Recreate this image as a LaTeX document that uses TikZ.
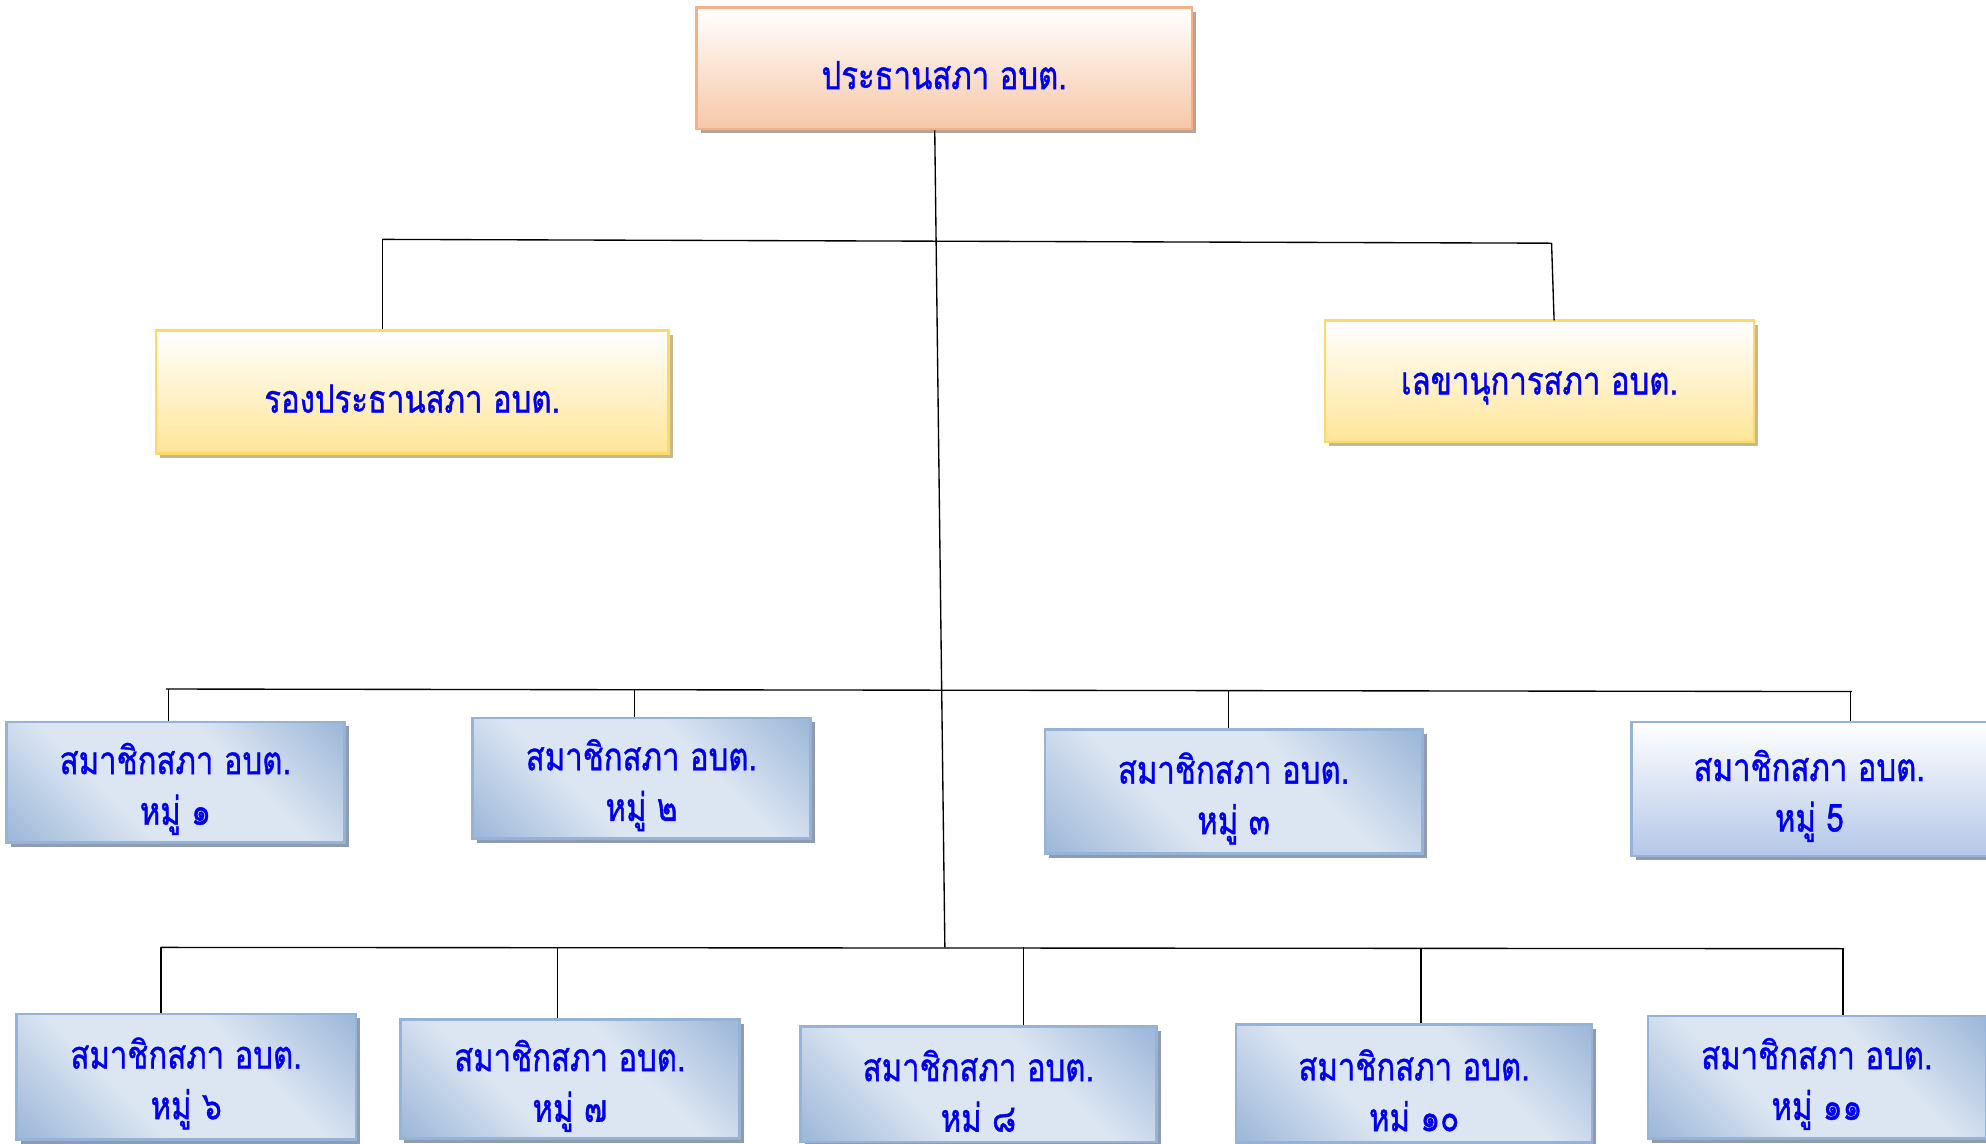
\documentclass[tikz,border=0pt]{standalone}
\usepackage{fontspec}
\newfontfamily\thaifont[Script=Thai,FakeStretch=0.8,FakeBold=1.0]{Loma}
\usetikzlibrary{shadows}

\definecolor{txtblue}{RGB}{0,0,240}
\definecolor{peachline}{HTML}{F4B183}
\definecolor{peachfill}{HTML}{F6C7A7}
\definecolor{peachshade}{HTML}{B9A597}
\definecolor{yelline}{HTML}{FFD966}
\definecolor{yelfill}{HTML}{FFE597}
\definecolor{yelshade}{HTML}{C6B98F}
\definecolor{blueline}{HTML}{95B3D7}
\definecolor{bluedark}{HTML}{9FB9DA}
\definecolor{bluelight}{HTML}{DCE6F2}
\definecolor{bluepale}{HTML}{B4C7E7}
\definecolor{blueshade}{HTML}{8E9BB0}

\pgfdeclarehorizontalshading{memberdiag}{100bp}{color(0bp)=(bluedark); color(16bp)=(bluedark);
  color(38bp)=(bluelight); color(62bp)=(bluelight); color(84bp)=(bluedark); color(100bp)=(bluedark)}

% push the text a little below the middle of its box
\newcommand{\lowtext}[1]{\raisebox{-4pt}[\height][\depth]{#1}}
\newcommand{\member}[1]{\lowtext{สมาชิกสภา อบต.}\\\lowtext{#1}}

\tikzset{
  orgbox/.style={rectangle, inner sep=0pt, line width=1.5pt, text=txtblue,
    font=\thaifont\fontsize{23}{30}\selectfont, align=center},
  chairbox/.style={orgbox, draw=peachline, top color=white, bottom color=peachfill,
    drop shadow={shadow xshift=2.5pt, shadow yshift=-2.5pt, fill=peachshade, opacity=1}},
  vicebox/.style={orgbox, draw=yelline, top color=white, bottom color=yelfill,
    drop shadow={shadow xshift=2.5pt, shadow yshift=-2.5pt, fill=yelshade, opacity=1}},
  memberbox/.style={orgbox, draw=blueline, shading=memberdiag, shading angle=45,
    drop shadow={shadow xshift=2.5pt, shadow yshift=-2.5pt, fill=blueshade, opacity=1}},
  paleblue/.style={orgbox, draw=blueline, top color=white, bottom color=bluepale,
    drop shadow={shadow xshift=2.5pt, shadow yshift=-2.5pt, fill=blueshade, opacity=1}},
  link/.style={draw=black, line width=0.8pt}
}

\begin{document}
\begin{tikzpicture}[x=0.75pt,y=0.75pt,yscale=-1,xscale=1]
    \useasboundingbox (0,0) rectangle (1568,903);
    % boxes
    \node [chairbox, minimum width=391*0.75pt, minimum height=96*0.75pt] (chair) at (745.5,54) {\lowtext{ประธานสภา อบต.}};
    \node [vicebox, minimum width=405*0.75pt, minimum height=97*0.75pt] (vice) at (325.5,309.5) {\lowtext{รองประธานสภา อบต.}};
    \node [vicebox, minimum width=339*0.75pt, minimum height=96*0.75pt] (secr) at (1215.5,301) {\lowtext{เลขานุการสภา อบต.}};
    \node [memberbox, minimum width=267*0.75pt, minimum height=95*0.75pt] (m1) at (138.5,617.5) {\member{หมู่ ๑}};
    \node [memberbox, minimum width=267*0.75pt, minimum height=95*0.75pt] (m2) at (506.5,614.5) {\member{หมู่ ๒}};
    \node [memberbox, minimum width=298*0.75pt, minimum height=98*0.75pt] (m3) at (974,625) {\member{หมู่ ๓}};
    \node [paleblue, minimum width=281*0.75pt, minimum height=106*0.75pt] (m5) at (1428.5,623) {\member{หมู่ 5}};
    \node [memberbox, minimum width=268*0.75pt, minimum height=99*0.75pt] (m6) at (147,850) {\member{หมู่ ๖}};
    \node [memberbox, minimum width=268*0.75pt, minimum height=94*0.75pt] (m7) at (450,852) {\member{หมู่ ๗}};
    \node [memberbox, minimum width=281*0.75pt, minimum height=91*0.75pt] (m8) at (772.5,856) {\member{หม่ ๘}};
    \node [memberbox, minimum width=281*0.75pt, minimum height=93*0.75pt] (m10) at (1116.5,855.5) {\member{หม่ ๑๐}};
    \node [memberbox, minimum width=267*0.75pt, minimum height=97*0.75pt] (m11) at (1434.5,850.5) {\member{หมู่ ๑๑}};
    % bus lines
    \coordinate (trunk) at (738,102);
    \coordinate (base) at (746,748);
    \coordinate (upL) at (302,189);
    \coordinate (upR) at (1225,192);
    \coordinate (midL) at (131,544);
    \coordinate (midR) at (1462,546);
    \coordinate (lowL) at (127,748);
    \coordinate (lowR) at (1456,749);
    \draw [link] (chair.south -| trunk) -- (base);
    \draw [link] (upL) -- (upR);
    \draw [link] (upL) -- (vice.north -| upL);
    \draw [link] (upR) -- (1227,253) coordinate (secTop) -- (secr.north -| secTop);
    \draw [link] (midL) -- (midR);
    \draw [link] (lowL) -- (lowR);
    % drops to the members
    \coordinate (d1) at (133,544);
    \coordinate (d2) at (501,545);
    \coordinate (d3) at (970,545);
    \coordinate (d5) at (1461,546);
    \coordinate (d6) at (127,748);
    \coordinate (d7) at (440,748);
    \coordinate (d8) at (808,748);
    \coordinate (d10) at (1122,749);
    \coordinate (d11) at (1455,749);
    \foreach \m/\d in {m1/d1,m2/d2,m3/d3,m5/d5,m6/d6,m7/d7,m8/d8,m10/d10,m11/d11}
      \draw [link] (\d) -- (\m.north -| \d);
\end{tikzpicture}
\end{document}
